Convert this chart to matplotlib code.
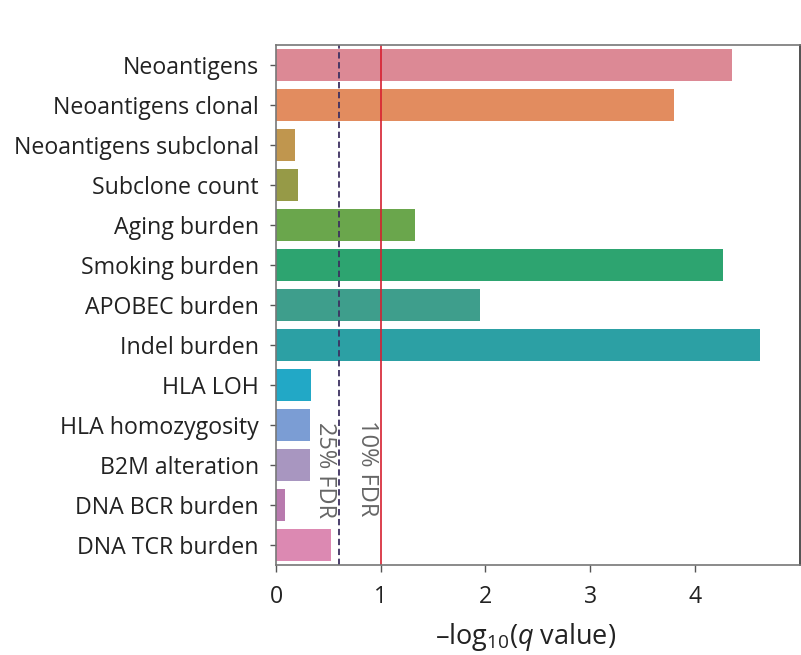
import matplotlib
matplotlib.use("Agg")
import matplotlib.pyplot as plt
import numpy as np

categories = ["Neoantigens", "Neoantigens clonal", "Neoantigens subclonal", "Subclone count",
              "Aging burden", "Smoking burden", "APOBEC burden", "Indel burden", "HLA LOH",
              "HLA homozygosity", "B2M alteration", "DNA BCR burden", "DNA TCR burden"]
values = [4.36, 3.80, 0.18, 0.21, 1.33, 4.27, 1.95, 4.62, 0.33, 0.32, 0.32, 0.086, 0.53]
fdr_lines = [0.25, 0.10]
fdr_labels = ["25% FDR", "10% FDR"]
xticks = [0, 1, 2, 3, 4]

palette = ["#dc8995", "#e28c5f", "#c0964e", "#969a47", "#6aa64c", "#2da470", "#3e9e8c",
           "#2ca0a4", "#22a8c6", "#7b9dd4", "#a896c0", "#b87aae", "#dc89b2"]

plt.rcParams['font.family'] = ['Open Sans', 'DejaVu Sans']
plt.rcParams['mathtext.fontset'] = 'custom'
plt.rcParams['mathtext.rm'] = 'Open Sans'
plt.rcParams['mathtext.it'] = 'Open Sans:italic'

fig = plt.figure(figsize=(8.01, 6.55), dpi=100)
W, H = 801, 655
ax = fig.add_axes([276 / W, 1 - 565 / H, (799.5 - 276) / W, (565 - 44.7) / H])

y = np.arange(len(categories))
ax.barh(y, values, height=0.8, color=palette)
ax.set_ylim(len(categories) - 0.5, -0.5)
ax.set_xlim(0, 5.0)
ax.set_yticks(y)
ax.set_yticklabels(categories, fontsize=16.7, color="#222222")
ax.set_xticks(xticks)
ax.set_xticklabels([str(t) for t in xticks], fontsize=16.7, color="#222222")
ax.tick_params(axis="y", color="#555555", length=4, width=1, pad=8.5)
ax.tick_params(axis="x", color="#555555", length=5, width=1, pad=9.5)
for s in ax.spines.values():
    s.set_color("#777777")
    s.set_linewidth(1.2)
ax.spines["right"].set_color("#333333")

ax.axvline(-np.log10(fdr_lines[0]), color="#3d3060", linestyle=(0, (3.5, 2)), linewidth=1.3)
ax.axvline(-np.log10(fdr_lines[1]), color="#d62030", linewidth=1.2)

ax.text(0.464, 10.12, fdr_labels[0], rotation=-90, ha="center", va="center",
        fontsize=17, color="#666666")
ax.text(0.87, 10.08, fdr_labels[1], rotation=-90, ha="center", va="center",
        fontsize=17, color="#666666")

ax.set_xlabel(r"–log$_{10}$($\mathit{q}$ value)", fontsize=19.5, color="#222222")
ax.xaxis.set_label_coords(0.476, -0.138, transform=ax.transAxes)
ax.xaxis.label.set_va("center")

fig.savefig("out.png", dpi=100)
